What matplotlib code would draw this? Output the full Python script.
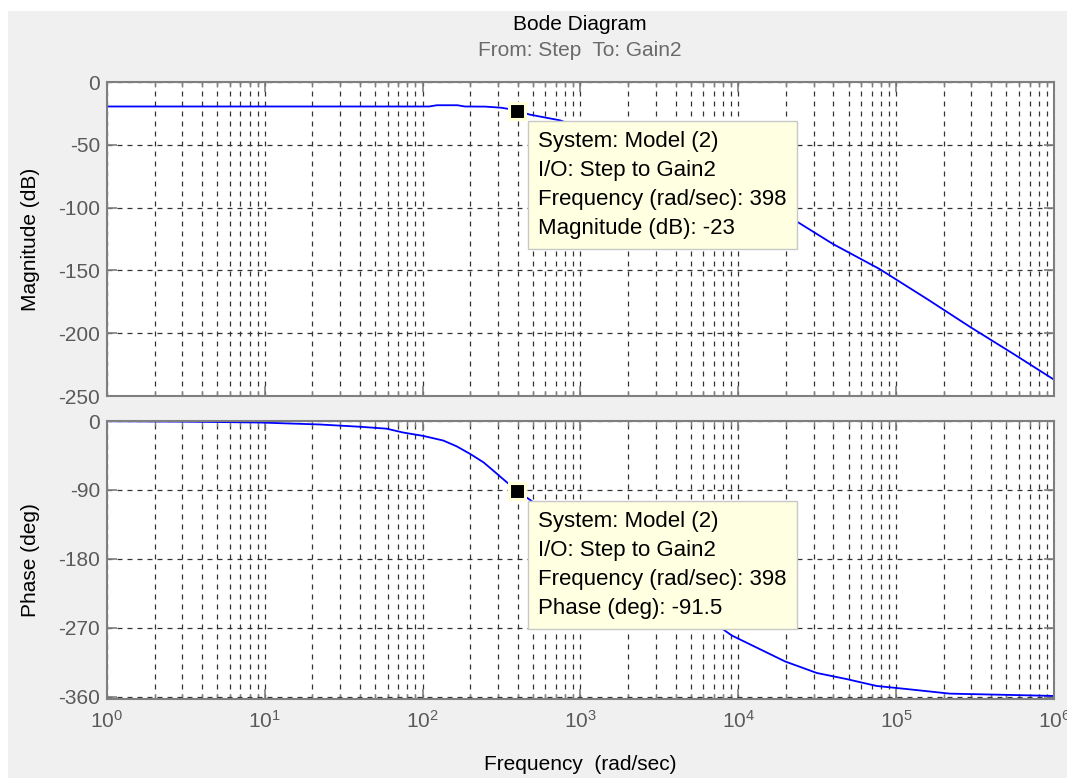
import numpy as np
import matplotlib
matplotlib.use("Agg")
import matplotlib.pyplot as plt
from matplotlib.ticker import LogLocator, FixedLocator, NullFormatter
from matplotlib.patches import Rectangle

# values
mag_freq = [1, 10, 60, 110, 123, 166, 185, 250, 316, 355, 398, 479, 741, 1000,
            1780, 3160, 5620, 10000, 15800, 23400, 39800, 78700, 158000,
            294000, 562000, 1000000]
mag_db = [-19.5, -19.5, -19.5, -19.5, -18.5, -18.5, -19.5, -19.6, -20.5, -21.6,
          -23, -26, -30.5, -36.5, -47, -58, -71, -85, -99, -111, -129, -149,
          -173, -195, -217, -237]

phase_freq = [1, 3, 9.3, 22, 40, 59, 75, 101, 135, 164, 200, 243, 281, 324,
              398, 479, 631, 1000, 1580, 2510, 3980, 6310, 9080, 19800, 31400,
              48600, 75300, 116700, 219000, 610000, 1000000]
phase_deg = [-0.3, -0.8, -2, -4.5, -7.5, -10, -15, -19.5, -25.5, -33, -43,
             -54, -65, -76, -91.5, -103, -122, -150, -174, -199, -228, -257,
             -280, -314, -329, -337, -346, -350, -356, -358, -359]

tip_freq = 398
tip_mag = -23
tip_phase = -91.5

mag_ticks = [0, -50, -100, -150, -200, -250]
phase_ticks = [0, -90, -180, -270, -360]

plt.rcParams['font.family'] = ['Liberation Sans', 'DejaVu Sans']
plt.rcParams['mathtext.fontset'] = 'custom'
plt.rcParams['mathtext.rm'] = 'Liberation Sans'
plt.rcParams['axes.unicode_minus'] = False

W, H = 1067, 778
FS = 15
tick_col = '#5a5a5a'
grid_col = '#333333'
box_col = '#7f7f7f'


def px_rect(l, t, r, b):
    return [l / W, 1 - b / H, (r - l) / W, (b - t) / H]


fig = plt.figure(figsize=(W / 100, H / 100), dpi=100, facecolor='white')
fig.patches.append(Rectangle((8 / W, 0), 1, 1 - 11 / H, transform=fig.transFigure,
                             facecolor='#f0f0f0', edgecolor='none', zorder=-10))

ax1 = fig.add_axes(px_rect(107, 82, 1054, 396))
ax2 = fig.add_axes(px_rect(107, 421, 1054, 699), sharex=ax1)

for ax in (ax1, ax2):
    ax.set_xscale('log')
    ax.set_xlim(1, 1e6)
    ax.xaxis.set_major_locator(LogLocator(base=10, numticks=10))
    ax.xaxis.set_minor_locator(LogLocator(base=10, subs=np.arange(2, 10), numticks=20))
    ax.xaxis.set_minor_formatter(NullFormatter())
    ax.grid(True, which='major', axis='both', color=grid_col, linestyle=(0, (4, 4)), linewidth=0.9)
    ax.grid(True, which='minor', axis='x', color=grid_col, linestyle=(0, (4, 4)), linewidth=0.9)
    ax.tick_params(which='both', direction='in', top=True, right=True,
                   colors=box_col, labelcolor=tick_col, labelsize=FS)
    ax.tick_params(which='major', length=7, width=1.2)
    ax.tick_params(which='minor', length=3.5, width=1)
    ax.tick_params(axis='y', pad=5)
    ax.tick_params(axis='x', pad=8)
    for s in ax.spines.values():
        s.set_color(box_col)
        s.set_linewidth(1.5)
    ax.set_facecolor('white')

ax1.plot(mag_freq, mag_db, color='#0000ff', lw=1.3)
ax1.set_ylim(-250, 0)
ax1.yaxis.set_major_locator(FixedLocator(mag_ticks))
ax1.tick_params(axis='x', labelbottom=False)

ax2.plot(phase_freq, phase_deg, color='#0000ff', lw=1.3)
ax2.set_ylim(-363, 0)
ax2.yaxis.set_major_locator(FixedLocator(phase_ticks))

# data tips
tip_lines_mag = ["System: Model (2)", "I/O: Step to Gain2",
                 "Frequency (rad/sec): %d" % tip_freq, "Magnitude (dB): %g" % tip_mag]
tip_lines_ph = ["System: Model (2)", "I/O: Step to Gain2",
                "Frequency (rad/sec): %d" % tip_freq, "Phase (deg): %g" % tip_phase]
for ax, yv, lines in ((ax1, tip_mag, tip_lines_mag), (ax2, tip_phase, tip_lines_ph)):
    ax.plot([tip_freq], [yv], 's', ms=11, mfc='black', mec='#ffffd8', mew=2.2, zorder=5)
    ax.annotate("\n".join(lines), xy=(tip_freq, yv), xytext=(21, -20),
                textcoords='offset pixels', ha='left', va='top', fontsize=16,
                color='black', linespacing=1.5, zorder=6,
                bbox=dict(boxstyle='square,pad=0.45', fc='#ffffe1', ec='#c8c8c8', lw=1))

fig.text(580 / W, 1 - 25 / H, "Bode Diagram", ha='center', va='center', fontsize=FS, color='black')
fig.text(580 / W, 1 - 51 / H, "From: Step  To: Gain2", ha='center', va='center',
         fontsize=FS, color='#6a6a6a')
fig.text(580 / W, 1 - 765 / H, "Frequency  (rad/sec)", ha='center', va='center',
         fontsize=FS, color='black')
fig.text(30 / W, 1 - 239 / H, "Magnitude (dB)", ha='center', va='center', rotation=90,
         fontsize=FS, color='black')
fig.text(30 / W, 1 - 560 / H, "Phase (deg)", ha='center', va='center', rotation=90,
         fontsize=FS, color='black')

fig.savefig("out.png", dpi=100, facecolor=fig.get_facecolor())
